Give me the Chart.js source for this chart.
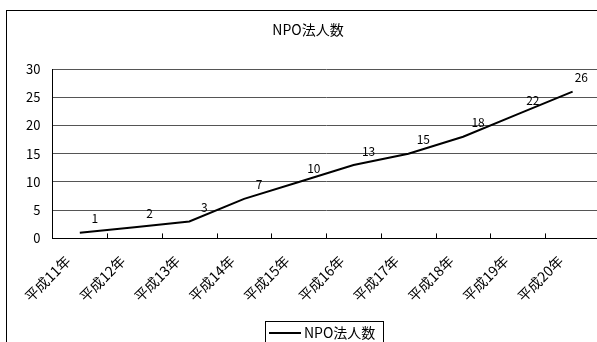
<!DOCTYPE html>
<html>
<head>
<meta charset="utf-8">
<script src="https://cdn.jsdelivr.net/npm/chart.js@4/dist/chart.umd.min.js"></script>
<style>
  html, body { margin: 0; padding: 0; background: #fff; overflow: hidden; }
  #wrap { position: absolute; left: 0; top: 0; width: 612px; height: 342px; }
</style>
</head>
<body>
<div id="wrap"><canvas id="c" width="612" height="342"></canvas></div>
<script>
// 年度別のNPO法人数
const years = ['平成11年', '平成12年', '平成13年', '平成14年', '平成15年',
               '平成16年', '平成17年', '平成18年', '平成19年', '平成20年'];
const npoCounts = [1, 2, 3, 7, 10, 13, 15, 18, 22, 26];
const seriesName = 'NPO法人数';
const chartTitle = 'NPO法人数';
const yTicks = [0, 5, 10, 15, 20, 25, 30];

const FONT = '"Noto Sans CJK JP", "Liberation Sans", sans-serif';

// 外枠・タイトル・値ラベル・目盛り線・凡例を描くプラグイン
const decorations = {
  id: 'decorations',
  beforeDraw(chart) {
    const ctx = chart.ctx;
    ctx.save();
    ctx.fillStyle = '#fff';
    ctx.fillRect(0, 0, chart.width, chart.height);
    ctx.strokeStyle = '#000';
    ctx.lineWidth = 1;
    ctx.strokeRect(6.5, 10.5, 640, 400);
    ctx.restore();
  },
  afterDraw(chart) {
    const ctx = chart.ctx;
    const xs = chart.scales.x;
    const ys = chart.scales.y;
    const area = chart.chartArea;
    ctx.save();

    // タイトル
    ctx.fillStyle = '#000';
    ctx.font = '14px ' + FONT;
    ctx.textAlign = 'center';
    ctx.textBaseline = 'middle';
    ctx.fillText(chartTitle, 308, 30);

    // 区切りの目盛り（内向き）
    ctx.strokeStyle = '#000';
    ctx.lineWidth = 1;
    for (let i = 1; i < years.length; i++) {
      const bx = Math.round((xs.getPixelForValue(i - 1) + xs.getPixelForValue(i)) / 2) + 0.5;
      ctx.beginPath();
      ctx.moveTo(bx, area.bottom);
      ctx.lineTo(bx, area.bottom - 5);
      ctx.stroke();
    }

    // 値ラベル
    ctx.font = '12px ' + FONT;
    ctx.textAlign = 'center';
    ctx.textBaseline = 'middle';
    npoCounts.forEach((v, i) => {
      const px = xs.getPixelForValue(i);
      const py = ys.getPixelForValue(v);
      const txt = String(v);
      const w = ctx.measureText(txt).width;
      let lx = px + 15;
      if (lx + w / 2 > 588) lx = 588 - w / 2;
      ctx.fillText(txt, lx, py - 14);
    });

    // 凡例
    const lx0 = 265, ly0 = 321;
    ctx.strokeStyle = '#000';
    ctx.lineWidth = 1;
    ctx.strokeRect(lx0 + 0.5, ly0 + 0.5, 118, 40);
    ctx.lineWidth = 2;
    ctx.beginPath();
    ctx.moveTo(lx0 + 4, 333);
    ctx.lineTo(lx0 + 36, 333);
    ctx.stroke();
    ctx.font = '14px ' + FONT;
    ctx.textAlign = 'left';
    ctx.fillText(seriesName, lx0 + 39, 333);
    ctx.restore();
  }
};

new Chart(document.getElementById('c'), {
  type: 'line',
  data: {
    labels: years,
    datasets: [{
      label: seriesName,
      data: npoCounts,
      borderColor: '#000',
      backgroundColor: '#000',
      borderWidth: 2,
      pointRadius: 0,
      tension: 0,
      fill: false
    }]
  },
  options: {
    responsive: false,
    animation: false,
    events: [],
    layout: { padding: { left: 14, right: 12, top: 69, bottom: 23 } },
    plugins: {
      legend: { display: false },
      title: { display: false },
      tooltip: { enabled: false }
    },
    scales: {
      x: {
        offset: true,
        grid: { display: false, drawTicks: false },
        border: { color: '#000', width: 1 },
        ticks: {
          color: '#000',
          font: { family: FONT, size: 14 },
          minRotation: 45,
          maxRotation: 45,
          padding: 14,
          labelOffset: -12,
          autoSkip: false
        }
      },
      y: {
        min: 0,
        max: 30,
        afterBuildTicks(scale) { scale.ticks = yTicks.map(v => ({ value: v })); },
        grid: { color: '#555', lineWidth: 1, drawTicks: false },
        border: { color: '#000', width: 1 },
        ticks: {
          color: '#000',
          font: { family: FONT, size: 13 },
          padding: 12
        }
      }
    }
  },
  plugins: [decorations]
});
</script>
</body>
</html>
